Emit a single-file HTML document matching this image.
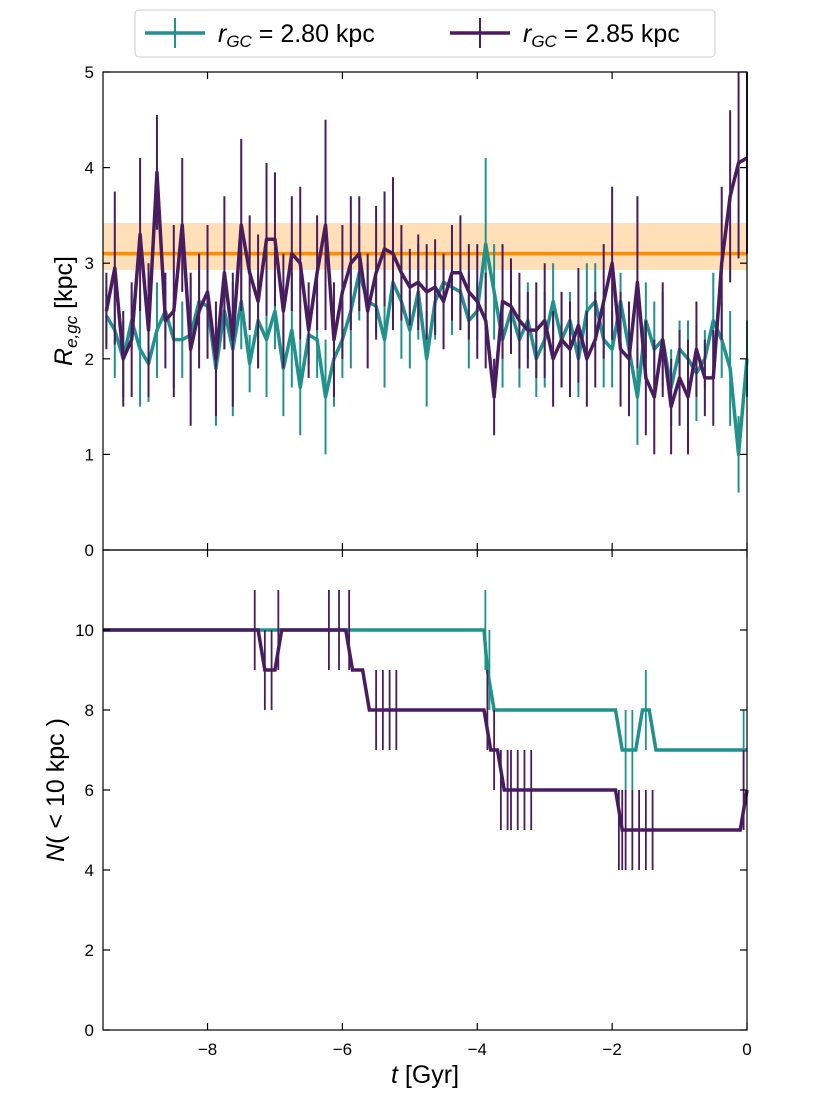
<!DOCTYPE html>
<html><head><meta charset="utf-8"><style>
body{margin:0;background:#fff;}
svg{display:block;font-family:"Liberation Sans","DejaVu Sans",sans-serif;}
</style></head><body>
<svg id="chart" width="830" height="1099" xmlns="http://www.w3.org/2000/svg">
<g id="g"></g>
</svg>
<script>
const tealR=[2.45,2.3,2.0,2.4,2.1,1.95,2.3,2.5,2.2,2.2,2.25,2.6,2.55,1.9,2.5,2.1,2.6,1.95,2.4,2.2,2.5,1.9,2.3,1.7,2.25,2.2,1.6,2.0,2.2,2.5,2.9,2.6,2.55,2.2,2.8,2.6,2.3,2.7,2.0,2.6,2.8,2.75,2.7,2.4,2.5,3.2,2.7,2.2,2.5,2.2,2.4,2.0,2.2,2.6,2.2,2.4,2.0,2.5,2.6,2.2,2.1,2.6,2.1,1.6,2.4,2.1,2.2,1.7,2.1,2.0,1.85,2.0,2.4,2.2,1.9,1.0,2.0];
const tealE=[0.3,0.5,0.4,0.3,0.6,0.4,0.5,0.3,0.5,0.4,0.6,0.5,0.3,0.6,0.4,0.7,0.5,0.3,0.5,0.6,0.4,0.5,0.6,0.5,0.3,0.4,0.6,0.5,0.4,0.6,0.5,0.4,0.3,0.5,0.4,0.6,0.4,0.5,0.5,0.4,0.3,0.5,0.4,0.5,0.3,0.9,0.5,0.5,0.3,0.5,0.4,0.4,0.5,0.4,0.5,0.3,0.4,0.5,0.4,0.5,0.4,0.3,0.5,0.5,0.4,0.5,0.5,0.4,0.3,0.4,0.5,0.3,0.5,0.4,0.6,0.4,0.4];
const purpR=[2.5,2.95,2.0,2.2,3.3,2.3,3.95,2.4,2.5,3.4,2.1,2.5,2.7,2.0,2.9,2.2,3.4,2.9,2.6,3.25,3.25,2.5,3.1,3.0,2.3,2.9,3.4,2.2,2.7,3.0,3.1,2.5,2.9,3.15,3.1,2.9,2.75,2.8,2.7,2.75,2.6,2.9,2.9,2.7,2.6,2.4,1.6,2.6,2.55,2.4,2.3,2.3,2.4,2.0,2.2,2.1,2.35,2.0,2.2,2.6,3.0,2.1,2.0,2.8,1.8,1.6,2.2,1.5,1.8,1.6,2.1,1.8,1.8,3.0,3.7,4.05,4.1];
const purpE=[0.4,0.8,0.5,0.6,0.8,0.7,0.6,0.5,0.9,0.7,0.8,0.6,0.7,0.6,0.8,0.7,0.9,0.6,0.7,0.8,0.7,0.6,0.6,0.8,0.5,0.6,1.1,0.6,0.7,0.7,0.6,0.6,0.7,0.6,0.8,0.5,0.4,0.5,0.5,0.5,0.5,0.5,0.6,0.5,0.6,0.5,0.4,0.6,0.5,0.5,0.4,0.5,0.6,0.5,0.5,0.5,0.6,0.5,0.5,0.6,0.8,0.6,0.6,0.9,0.6,0.6,0.6,0.5,0.5,0.6,0.5,0.4,0.5,0.8,0.9,1.0,1.0];
const tealNt=[-9.55,-3.9,-3.85,-3.75,-1.95,-1.85,-1.65,-1.55,-1.45,-1.35,0];
const tealNv=[10,10,9,8,8,7,7,8,8,7,7];
const tealNerrT=[-3.88,-3.82,-1.8,-1.7,-1.5,-0.05];
const purpNt=[-9.55,-7.25,-7.15,-7.0,-6.9,-5.95,-5.85,-5.7,-5.6,-3.9,-3.8,-3.7,-3.6,-1.95,-1.85,-0.1,0];
const purpNv=[10,10,9,9,10,10,9,9,8,8,7,7,6,6,5,5,6];
const purpNerrT=[-7.3,-7.15,-7.05,-6.95,-6.2,-6.05,-5.9,-5.5,-5.4,-5.3,-5.2,-3.85,-3.75,-3.65,-3.55,-3.5,-3.4,-3.3,-3.2,-1.9,-1.85,-1.8,-1.7,-1.6,-1.5,-1.4,-0.05];
const refVal=3.1, refLo=2.93, refHi=3.42;
const xTicks=[-8,-6,-4,-2,0];
const yTicksTop=[0,1,2,3,4,5];
const yTicksBot=[0,2,4,6,8,10];

const TEAL='#21918c', PURP='#481c5e';
const L=103,R=747,T1=72,B1=550,T2=550,B2=1030;
const X=t=>L+(t+9.55)/9.55*(R-L);
const Y1=v=>B1-v/5*(B1-T1);
const Y2=v=>B2-v/12*(B2-T2);
const g=document.getElementById('g');
const NS='http://www.w3.org/2000/svg';
function el(tag,attrs,parent){const e=document.createElementNS(NS,tag);for(const k in attrs)e.setAttribute(k,attrs[k]);(parent||g).appendChild(e);return e;}
const tArr=n=>Array.from({length:n},(_,i)=>-9.5+i*9.5/(n-1));

const band=el('rect',{x:L,y:Y1(refHi),width:R-L,height:Y1(refLo)-Y1(refHi),fill:'#ffdfb8'});


const ref=el('line',{x1:L,x2:R,y1:Y1(refVal),y2:Y1(refVal),stroke:'#ff8c00','stroke-width':3.5});



function series(vals,errs,color,name){
  const ts=tArr(vals.length);
  const grp=el('g',{});
  
  
  vals.forEach((v,i)=>{
    const b=el('line',{x1:X(ts[i]),x2:X(ts[i]),y1:Y1(Math.max(0,v-errs[i])),y2:Y1(Math.min(5,v+errs[i])),stroke:color,'stroke-width':2},grp);
    
    
  });
  const p=el('polyline',{points:vals.map((v,i)=>X(ts[i])+','+Y1(v)).join(' '),fill:'none',stroke:color,'stroke-width':3.5,'stroke-linejoin':'round'},grp);
  
  
}
series(tealR,tealE,TEAL,'teal-radius-series');
series(purpR,purpE,PURP,'purple-radius-series');

function stepSeries(ts,vs,errT,color,name){
  const grp=el('g',{});
  
  
  const val=t=>{for(let i=0;i<ts.length-1;i++){if(t<=ts[i+1]){return vs[i]+(vs[i+1]-vs[i])*(t-ts[i])/(ts[i+1]-ts[i]);}}return vs[vs.length-1];};
  errT.forEach(t=>{const v=Math.round(val(t));
    const b=el('line',{x1:X(t),x2:X(t),y1:Y2(v-1),y2:Y2(v+1),stroke:color,'stroke-width':1.8},grp);
    
    });
  const p=el('polyline',{points:ts.map((t,i)=>X(t)+','+Y2(vs[i])).join(' '),fill:'none',stroke:color,'stroke-width':3.5},grp);
  
  
}
stepSeries(tealNt,tealNv,tealNerrT,TEAL,'teal-count-series');
stepSeries(purpNt,purpNv,purpNerrT,PURP,'purple-count-series');

[[T1,B1,Y1,yTicksTop,'top'],[T2,B2,Y2,yTicksBot,'bottom']].forEach(([t,b,Y,yt,nm])=>{
  const f=el('rect',{x:L,y:t,width:R-L,height:b-t,fill:'none',stroke:'#000','stroke-width':1.2});
  
  
  yt.forEach(v=>{
    el('line',{x1:L,x2:L+7,y1:Y(v),y2:Y(v),stroke:'#000','stroke-width':1.2});
    el('line',{x1:R-7,x2:R,y1:Y(v),y2:Y(v),stroke:'#000','stroke-width':1.2});
    const tx=el('text',{x:L-9,y:Y(v)+6,'text-anchor':'end','font-size':17});
    tx.textContent=v;
    
    
  });
  xTicks.forEach(v=>{
    el('line',{x1:X(v),x2:X(v),y1:b-7,y2:b,stroke:'#000','stroke-width':1.2});
    el('line',{x1:X(v),x2:X(v),y1:t,y2:t+7,stroke:'#000','stroke-width':1.2});
  });
});
xTicks.forEach(v=>{
  const tx=el('text',{x:X(v),y:B2+25,'text-anchor':'middle','font-size':17});
  tx.textContent=v===0?'0':'\u2212'+Math.abs(v);
  
  
});
</script>
<div style="position:absolute;left:0;top:0;width:830px;height:1099px;pointer-events:none">
<svg width="830" height="1099" style="position:absolute;left:0;top:0">
<text x="425" y="1083" text-anchor="middle" font-size="25" font-family="Liberation Sans,sans-serif"><tspan font-style="italic">t</tspan> [Gyr]</text>
<text transform="translate(72,311) rotate(-90)" text-anchor="middle" font-size="25" font-family="Liberation Sans,sans-serif"><tspan font-style="italic">R</tspan><tspan font-style="italic" font-size="17" dy="5">e,gc</tspan><tspan dy="-5"> [kpc]</tspan></text>
<text transform="translate(64,790) rotate(-90)" text-anchor="middle" font-size="25" font-family="Liberation Sans,sans-serif"><tspan font-style="italic">N</tspan>( &lt; 10 kpc )</text>
<g>
<rect x="135" y="10" width="580" height="47" rx="4" fill="#fff" stroke="#ccc"/>
<g>
<line x1="145" x2="205" y1="33" y2="33" stroke="#21918c" stroke-width="3.5"/>
<line x1="175" x2="175" y1="18" y2="48" stroke="#21918c" stroke-width="2"/>
<text x="218" y="42" font-size="25" font-family="Liberation Sans,sans-serif"><tspan font-style="italic">r</tspan><tspan font-style="italic" font-size="17" dy="5">GC</tspan><tspan dy="-5"> = 2.80 kpc</tspan></text>
</g>
<g>
<line x1="450" x2="510" y1="33" y2="33" stroke="#481c5e" stroke-width="3.5"/>
<line x1="480" x2="480" y1="18" y2="48" stroke="#481c5e" stroke-width="2"/>
<text x="523" y="42" font-size="25" font-family="Liberation Sans,sans-serif"><tspan font-style="italic">r</tspan><tspan font-style="italic" font-size="17" dy="5">GC</tspan><tspan dy="-5"> = 2.85 kpc</tspan></text>
</g>
</g>
</svg>
</div>
</body></html>
